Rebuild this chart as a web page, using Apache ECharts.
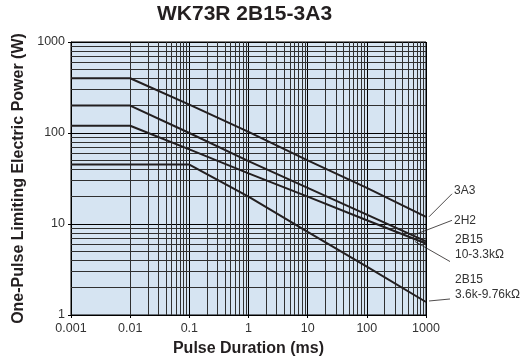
<!DOCTYPE html>
<html>
<head>
<meta charset="utf-8">
<script src="https://cdn.jsdelivr.net/npm/echarts@6/dist/echarts.min.js"></script>
<style>
html,body{margin:0;padding:0;background:#fff;}
#c{width:526px;height:362px;}
</style>
</head>
<body>
<div id="c"></div>
<script>
// ---- data ----
const pulseMs = [0.001, 0.01, 0.1, 1, 10, 100, 1000];
const power3A3 = [400, 400, 205, 103, 50, 25, 12];
const power2H2 = [200, 200, 100, 49, 25, 12.7, 6.45];
const power2B15a = [120, 120, 66, 36, 20, 11, 6.1];
const power2B15b = [45, 45, 45, 20, 8.2, 3.4, 1.39];
const seriesNames = ['3A3', '2H2', '2B15 10-3.3kΩ', '2B15 3.6k-9.76kΩ'];
const seriesLabels = [['3A3'], ['2H2'], ['2B15', '10-3.3kΩ'], ['2B15', '3.6k-9.76kΩ']];
const xTickLabels = ['0.001', '0.01', '0.1', '1', '10', '100', '1000'];
const yTickLabels = ['1', '10', '100', '1000'];
const xDecades = [0.001, 0.01, 0.1, 1, 10, 100];
const yDecades = [1, 10, 100];
const minorSteps = [2, 3, 4, 5, 6, 7, 8, 9];

const FONT = 'Liberation Sans, Arial, Helvetica, sans-serif';
const allPower = [power3A3, power2H2, power2B15a, power2B15b];

const xMinor = [];
xDecades.forEach(d => minorSteps.forEach(m => xMinor.push(+(d * m).toPrecision(3))));
const yMinor = [];
yDecades.forEach(d => minorSteps.forEach(m => yMinor.push(+(d * m).toPrecision(3))));

const chart = echarts.init(document.getElementById('c'), null, {renderer: 'canvas'});

const lineSeries = allPower.map((vals, i) => ({
  name: seriesNames[i],
  type: 'line',
  data: pulseMs.map((x, j) => [x, vals[j]]),
  showSymbol: false,
  symbol: 'none',
  lineStyle: {color: '#231f20', width: 2},
  z: 5,
  animation: false
}));

const gridSeries = {
  type: 'line',
  data: [],
  z: 2,
  silent: true,
  animation: false,
  markLine: {
    silent: true,
    symbol: 'none',
    animation: false,
    label: {show: false},
    lineStyle: {color: '#303030', width: 1, type: 'solid'},
    data: xMinor.map(v => ({xAxis: v})).concat(yMinor.map(v => ({yAxis: v})))
  }
};

chart.setOption({
  backgroundColor: '#ffffff',
  animation: false,
  title: {
    text: 'WK73R 2B15-3A3',
    left: 157, top: 4, padding: 0,
    textStyle: {fontFamily: FONT, fontSize: 21, fontWeight: 'bold', color: '#231f20'}
  },
  grid: {
    left: 71, right: 100, top: 42, bottom: 45,
    show: true, backgroundColor: '#d6e4f2', borderColor: '#000', borderWidth: 1
  },
  xAxis: {
    type: 'log', logBase: 10, min: 0.001, max: 1000, splitNumber: 6,
    name: 'Pulse Duration (ms)', nameLocation: 'middle', nameGap: 26,
    nameTextStyle: {fontFamily: FONT, fontSize: 16, fontWeight: 'bold', color: '#231f20'},
    axisLine: {show: true, lineStyle: {color: '#000', width: 1}},
    axisTick: {show: true, length: 3, lineStyle: {color: '#000'}},
    axisLabel: {
      fontFamily: FONT, fontSize: 12.5, color: '#333', margin: 7,
      formatter: v => xTickLabels[Math.round(Math.log10(v)) + 3]
    },
    splitLine: {show: true, lineStyle: {color: '#000', width: 1}}
  },
  yAxis: {
    type: 'log', logBase: 10, min: 1, max: 1000, splitNumber: 3,
    name: 'One-Pulse Limiting Electric Power (W)', nameLocation: 'middle', nameGap: 38,
    nameTextStyle: {fontFamily: FONT, fontSize: 16, fontWeight: 'bold', color: '#231f20'},
    axisLine: {show: true, lineStyle: {color: '#000', width: 1}},
    axisTick: {show: true, length: 3, lineStyle: {color: '#000'}},
    axisLabel: {
      fontFamily: FONT, fontSize: 12.5, color: '#333', margin: 6,
      formatter: v => yTickLabels[Math.round(Math.log10(v))]
    },
    splitLine: {show: true, lineStyle: {color: '#000', width: 1}}
  },
  series: [gridSeries].concat(lineSeries)
});

// leader lines and right-hand labels, anchored to each series' end point
const leaderStart = [[3, 0], [-13, -6], [-11, -2], [3, -1]];
const leaderEnd = [[26, -23], [26, -21], [24, 18], [24, -3]];
const textPos = [[28, -26], [28, -21], [29, 4], [29, -15]];
const graphics = [];
allPower.forEach((vals, i) => {
  const p = chart.convertToPixel({seriesIndex: i + 1}, [pulseMs[pulseMs.length - 1], vals[vals.length - 1]]);
  graphics.push({
    type: 'line', silent: true,
    shape: {x1: p[0] + leaderStart[i][0], y1: p[1] + leaderStart[i][1], x2: p[0] + leaderEnd[i][0], y2: p[1] + leaderEnd[i][1]},
    style: {stroke: '#231f20', lineWidth: 0.8}, z: 10
  });
  graphics.push({
    type: 'text', silent: true,
    x: p[0] + textPos[i][0], y: p[1] + textPos[i][1],
    style: {
      text: seriesLabels[i].join('\n'), fontFamily: FONT, fontSize: 12, fill: '#333',
      lineHeight: 15, verticalAlign: 'middle', align: 'left'
    },
    z: 10
  });
});
chart.setOption({graphic: graphics});
</script>
</body>
</html>
